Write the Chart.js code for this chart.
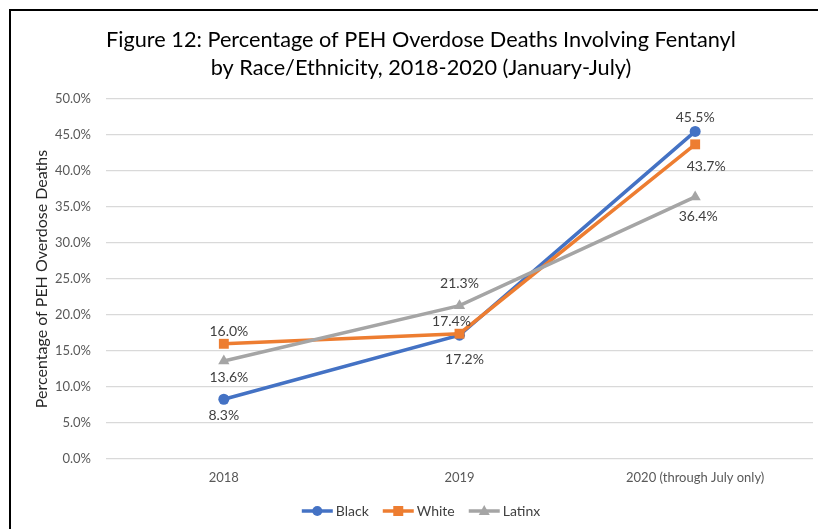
<!DOCTYPE html>
<html>
<head>
<meta charset="utf-8">
<script src="https://cdn.jsdelivr.net/npm/chart.js@4.4.1/dist/chart.umd.min.js"></script>
<style>
  html, body { margin: 0; padding: 0; background: #fff; overflow: hidden; width: 818px; height: 529px; }
  #frame { position: absolute; left: 9px; top: 9px; width: 900px; height: 600px;
           border-top: 2px solid #000; border-left: 2px solid #000; }
  #wrap { position: absolute; left: 0; top: 0; width: 842px; height: 529px; }
</style>
</head>
<body>
<div id="frame"></div>
<div id="wrap"><canvas id="chart" width="842" height="529"></canvas></div>
<script>
// data
const years = ["2018", "2019", "2020 (through July only)"];
const black = [8.3, 17.2, 45.5];
const white = [16.0, 17.4, 43.7];
const latinx = [13.6, 21.3, 36.4];
const yTicks = [0, 5, 10, 15, 20, 25, 30, 35, 40, 45, 50];

// where each value label sits relative to its point [dx, dy]
const labelOffsets = {
  Black:  [[0, 16], [5, 24], [0, -14]],
  White:  [[5, -12], [-8, -12], [11, 22]],
  Latinx: [[5, 16], [0, -22], [3, 20]]
};

const FONT = "Lato, 'Open Sans', sans-serif";

function drawMarker(ctx, style, x, y, color) {
  ctx.fillStyle = color;
  ctx.beginPath();
  if (style === "circle") {
    ctx.arc(x, y, 5, 0, Math.PI * 2);
  } else if (style === "rect") {
    ctx.rect(x - 5, y - 5, 10, 10);
  } else {
    ctx.moveTo(x, y - 6);
    ctx.lineTo(x + 5.5, y + 4);
    ctx.lineTo(x - 5.5, y + 4);
    ctx.closePath();
  }
  ctx.fill();
}

// value labels next to each point
const valueLabels = {
  id: "valueLabels",
  afterDatasetsDraw(chart) {
    const ctx = chart.ctx;
    ctx.save();
    ctx.font = "14px " + FONT;
    ctx.fillStyle = "#404040";
    ctx.textAlign = "center";
    ctx.textBaseline = "middle";
    chart.data.datasets.forEach((ds, di) => {
      const meta = chart.getDatasetMeta(di);
      meta.data.forEach((pt, i) => {
        const off = labelOffsets[ds.label][i];
        ctx.fillText(ds.data[i].toFixed(1) + "%", pt.x + off[0], pt.y + off[1]);
      });
    });
    ctx.restore();
  }
};

// legend with line + marker like the original
const lineLegend = {
  id: "lineLegend",
  afterDraw(chart) {
    const ctx = chart.ctx;
    ctx.save();
    ctx.font = "14px " + FONT;
    const sw = 31, gapText = 3, gapItem = 14;
    const items = chart.data.datasets.map(ds => ({ ds, w: sw + gapText + ctx.measureText(ds.label).width }));
    const total = items.reduce((a, it) => a + it.w, 0) + gapItem * (items.length - 1);
    let x = chart.width / 2 - total / 2;
    const y = 511;
    items.forEach(it => {
      const ds = it.ds;
      ctx.strokeStyle = ds.borderColor;
      ctx.lineWidth = 3.5;
      ctx.beginPath();
      ctx.moveTo(x, y);
      ctx.lineTo(x + sw, y);
      ctx.stroke();
      drawMarker(ctx, ds.pointStyle, x + sw / 2, y, ds.borderColor);
      ctx.fillStyle = "#404040";
      ctx.textAlign = "left";
      ctx.textBaseline = "middle";
      ctx.fillText(ds.label, x + sw + gapText, y);
      x += it.w + gapItem;
    });
    ctx.restore();
  }
};

function series(label, data, color, style, radius, order) {
  return {
    label, data,
    borderColor: color, backgroundColor: color,
    pointBackgroundColor: color, pointBorderColor: color,
    pointStyle: style, pointRadius: radius, pointBorderWidth: 0,
    borderWidth: 3.5, tension: 0, order
  };
}

new Chart(document.getElementById("chart"), {
  type: "line",
  data: {
    labels: years,
    datasets: [
      series("Black", black, "#4472C4", "circle", 5.5, 3),
      series("White", white, "#ED7D31", "rect", 7, 2),
      series("Latinx", latinx, "#A5A5A5", "triangle", 6.5, 1)
    ]
  },
  options: {
    responsive: false,
    animation: false,
    layout: { padding: { left: 29, right: 29, top: 0, bottom: 36 } },
    plugins: {
      legend: { display: false },
      tooltip: { enabled: false },
      title: {
        display: true,
        text: ["Figure 12: Percentage of PEH Overdose Deaths Involving Fentanyl",
               "by Race/Ethnicity, 2018-2020 (January-July)"],
        color: "#000",
        font: { family: FONT, size: 21.7, weight: "normal", lineHeight: 1.29 },
        padding: { top: 26, bottom: 17 }
      }
    },
    scales: {
      x: {
        offset: true,
        grid: { display: false, drawTicks: false },
        border: { display: false },
        ticks: { color: "#595959", font: { family: FONT, size: 13 }, padding: 11, maxRotation: 0 },
        afterFit(scale) { scale.height = 34; }
      },
      y: {
        min: 0, max: 50,
        afterBuildTicks(scale) { scale.ticks = yTicks.map(v => ({ value: v })); },
        grid: { color: "#D9D9D9", lineWidth: 1.3, drawTicks: false },
        border: { display: false },
        ticks: {
          color: "#595959", font: { family: FONT, size: 13 }, padding: 15,
          callback: v => v.toFixed(1) + "%"
        },
        title: {
          display: true, text: "Percentage of PEH Overdose Deaths",
          color: "#262626", font: { family: FONT, size: 16 }, padding: { top: 3, bottom: 0 }
        },
        afterFit(scale) { scale.width = 77; }
      }
    }
  },
  plugins: [valueLabels, lineLegend]
});
</script>
</body>
</html>
